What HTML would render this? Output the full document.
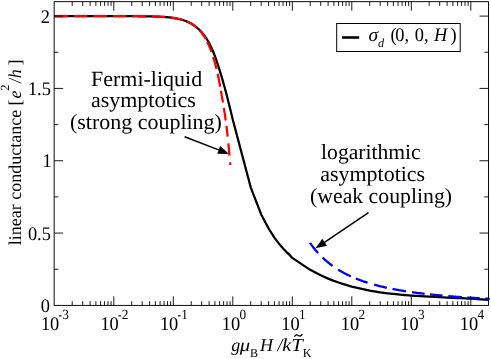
<!DOCTYPE html>
<html><head><meta charset="utf-8"><title>plot</title>
<style>html,body{margin:0;padding:0;background:#fff;}svg{display:block;will-change:transform;}text{font-family:"Liberation Serif",serif;fill:#000;text-rendering:geometricPrecision;}.i{font-style:italic;}</style>
</head><body>
<svg width="491" height="359" viewBox="0 0 491 359">
<rect x="0" y="0" width="491" height="359" fill="#fff"/>
<polyline points="54.31,16.08 55.21,16.08 56.11,16.09 57.01,16.09 57.92,16.09 58.82,16.10 59.72,16.10 60.62,16.10 61.53,16.10 62.43,16.11 63.33,16.11 64.23,16.11 65.14,16.11 66.04,16.11 66.94,16.11 67.85,16.11 68.75,16.11 69.65,16.11 70.56,16.11 71.46,16.11 72.36,16.11 73.27,16.11 74.17,16.11 75.07,16.11 75.98,16.11 76.88,16.11 77.79,16.11 78.69,16.11 79.59,16.11 80.50,16.11 81.40,16.11 82.31,16.11 83.21,16.11 84.11,16.11 85.02,16.10 85.92,16.10 86.83,16.10 87.73,16.10 88.63,16.10 89.54,16.10 90.44,16.10 91.35,16.10 92.25,16.10 93.15,16.10 94.06,16.10 94.96,16.09 95.87,16.09 96.77,16.09 97.67,16.09 98.58,16.09 99.48,16.09 100.39,16.09 101.29,16.09 102.19,16.09 103.10,16.09 104.00,16.09 104.91,16.09 105.81,16.09 106.71,16.09 107.62,16.09 108.52,16.09 109.42,16.10 110.33,16.10 111.23,16.10 112.13,16.10 113.04,16.10 113.94,16.10 114.84,16.11 115.75,16.11 116.65,16.11 117.55,16.11 118.45,16.12 119.36,16.12 120.26,16.13 121.16,16.13 122.06,16.13 122.97,16.14 123.87,16.14 124.77,16.15 125.67,16.15 126.57,16.16 127.48,16.17 128.38,16.17 129.28,16.18 130.18,16.19 131.09,16.19 131.99,16.20 132.89,16.21 133.79,16.22 134.70,16.22 135.60,16.23 136.50,16.24 137.40,16.25 138.31,16.26 139.21,16.27 140.11,16.28 141.02,16.30 141.92,16.31 142.83,16.32 143.73,16.33 144.63,16.34 145.54,16.36 146.44,16.37 147.35,16.39 148.25,16.40 149.16,16.42 150.06,16.43 150.97,16.45 151.88,16.46 152.78,16.48 153.69,16.50 154.59,16.52 155.50,16.54 156.41,16.57 157.31,16.60 158.22,16.63 159.12,16.66 160.03,16.70 160.93,16.75 161.84,16.79 162.74,16.85 163.64,16.90 164.54,16.97 165.44,17.03 166.34,17.11 167.24,17.19 168.14,17.28 169.04,17.38 169.93,17.48 170.83,17.59 171.72,17.71 172.61,17.84 173.50,17.98 174.39,18.12 175.28,18.28 176.16,18.45 177.05,18.62 177.93,18.81 178.81,19.01 179.69,19.22 180.56,19.44 181.44,19.68 182.31,19.93 183.17,20.19 184.03,20.46 184.89,20.76 185.74,21.06 186.58,21.39 187.42,21.73 188.24,22.10 189.06,22.48 189.86,22.89 190.66,23.31 191.44,23.76 192.22,24.22 192.98,24.70 193.72,25.20 194.46,25.72 195.19,26.25 195.90,26.80 196.60,27.36 197.28,27.94 197.95,28.53 198.61,29.13 199.26,29.75 199.89,30.38 200.51,31.02 201.12,31.67 201.71,32.33 202.29,33.00 202.86,33.69 203.42,34.38 203.96,35.08 204.50,35.80 205.02,36.52 205.53,37.25 206.03,37.99 206.52,38.74 207.00,39.50 207.47,40.26 207.93,41.04 208.39,41.82 208.83,42.60 209.26,43.40 209.69,44.20 210.10,45.01 210.51,45.82 210.91,46.64 211.30,47.47 211.69,48.30 212.06,49.14 212.44,49.98 212.80,50.83 213.16,51.68 213.51,52.53 213.85,53.39 214.19,54.25 214.53,55.12 214.85,55.98 215.18,56.85 215.50,57.73 215.81,58.60 216.12,59.48 216.43,60.36 216.73,61.24 217.03,62.12 217.32,63.00 217.61,63.88 217.90,64.76 218.19,65.64 218.48,66.53 218.76,67.41 219.04,68.29 219.32,69.17 219.59,70.05 219.86,70.93 220.14,71.81 220.40,72.69 220.67,73.57 220.94,74.45 221.20,75.33 221.46,76.20 221.72,77.08 221.98,77.96 222.23,78.84 222.49,79.71 222.74,80.59 222.99,81.47 223.24,82.34 223.49,83.22 223.73,84.09 223.98,84.97 224.22,85.85 224.46,86.72 224.70,87.59 224.94,88.47 225.17,89.34 225.41,90.22 225.64,91.09 225.87,91.96 226.10,92.83 226.33,93.71 226.56,94.58 226.79,95.45 227.01,96.32 227.24,97.19 227.46,98.07 227.68,98.94 227.91,99.81 228.13,100.68 228.35,101.55 228.56,102.42 228.78,103.29 229.00,104.16 229.21,105.03 229.43,105.90 229.64,106.76 229.86,107.63 230.07,108.50 230.28,109.37 230.49,110.24 230.70,111.11 230.91,111.97 231.12,112.84 231.33,113.71 231.54,114.57 231.75,115.44 231.96,116.31 232.17,117.17 232.80,119.83 250.71,187.30 261.19,214.40 268.62,228.51 274.39,237.61 279.10,243.88 283.08,248.50 286.53,252.07 289.58,254.94 292.30,257.90 310.21,269.83 320.69,275.31 328.12,278.60 333.89,280.86 338.60,282.54 342.58,283.86 346.03,284.92 349.08,285.80 351.80,286.54 369.71,290.56 380.19,292.30 387.62,293.31 393.39,293.99 398.10,294.48 402.08,294.85 405.53,295.15 408.58,295.39 411.30,295.60 429.21,296.68 439.69,297.19 447.12,297.53 452.89,297.79 457.60,298.01 461.58,298.22 465.03,298.40 468.08,298.57 470.80,298.73 488.71,299.80" fill="none" stroke="#000" stroke-width="2.25" stroke-linejoin="round"/>
<path d="M54.42,16.10 54.48,16.10 54.54,16.10 54.60,16.10 54.66,16.10 54.72,16.10 54.78,16.10 54.84,16.10 54.90,16.10 54.95,16.10 55.01,16.10 55.07,16.10 55.13,16.10 55.19,16.10 55.25,16.10 55.31,16.10 55.37,16.10 55.43,16.10 55.49,16.10 55.55,16.10 55.61,16.10 55.67,16.10 55.73,16.10 55.79,16.10 55.85,16.10 55.91,16.10 55.97,16.10 56.03,16.10 56.09,16.10 56.15,16.10 56.20,16.10 56.26,16.10 56.32,16.10 56.38,16.10 56.44,16.10 56.50,16.10 56.56,16.10 56.62,16.10 56.68,16.10 56.74,16.10 56.80,16.10 56.86,16.10 56.92,16.10 56.98,16.10 57.04,16.10 57.10,16.10 57.16,16.10 57.22,16.10 57.28,16.10 57.34,16.10 57.40,16.10 57.45,16.10 57.51,16.10 57.57,16.10 57.63,16.10 57.69,16.10 57.75,16.10 57.81,16.10 57.87,16.10 57.93,16.10 57.99,16.10 58.05,16.10 58.11,16.10 58.17,16.10 58.23,16.10 58.29,16.10 58.35,16.10 58.41,16.10 58.47,16.10 58.53,16.10 58.59,16.10 58.64,16.10 58.70,16.10 58.76,16.10 58.82,16.10 58.88,16.10 58.94,16.10 59.00,16.10 59.06,16.10 59.12,16.10 59.18,16.10 59.24,16.10 59.30,16.10 59.36,16.10 59.42,16.10 59.48,16.10 59.54,16.10 59.60,16.10 59.66,16.10 59.72,16.10 59.78,16.10 59.84,16.10 59.89,16.10 59.95,16.10 60.01,16.10 60.07,16.10 60.13,16.10 60.19,16.10 60.25,16.10 60.31,16.10 60.37,16.10 60.43,16.10 60.49,16.10 60.55,16.10 60.61,16.10 60.67,16.10 60.73,16.10 60.79,16.10 60.85,16.10 60.91,16.10 60.97,16.10 61.03,16.10 61.09,16.10 61.14,16.10 61.20,16.10 61.26,16.10 61.32,16.10 61.38,16.10 61.44,16.10 61.50,16.10 61.56,16.10 61.62,16.10 61.68,16.10 61.74,16.10 61.80,16.10 61.86,16.10 61.92,16.10 61.98,16.10 62.04,16.10 62.10,16.10 62.16,16.10 62.22,16.10 62.28,16.10 62.34,16.10 62.39,16.10 62.45,16.10 62.51,16.10 62.57,16.10 62.63,16.10 62.69,16.10 62.75,16.10 62.81,16.10 62.87,16.10 62.93,16.10 62.99,16.10 63.05,16.10 63.11,16.10 63.17,16.10 63.23,16.10 63.29,16.10 63.35,16.10 63.41,16.10 63.47,16.10 63.53,16.10 63.59,16.10 63.64,16.10 63.70,16.10 63.76,16.10 63.82,16.10 63.88,16.10 63.94,16.10 64.00,16.10 64.06,16.10 64.12,16.10 64.18,16.10 64.24,16.10 64.30,16.10 64.36,16.10 64.42,16.10 64.48,16.10 64.54,16.10 64.60,16.10 64.66,16.10 64.72,16.10 64.78,16.10 64.84,16.10 64.89,16.10 64.95,16.10 65.01,16.10 65.07,16.10 65.13,16.10 65.19,16.10 65.25,16.10 65.31,16.10 65.37,16.10 65.43,16.10 65.49,16.10 65.55,16.10 65.61,16.10 65.67,16.10 65.73,16.10 65.79,16.10 65.85,16.10 65.91,16.10 65.97,16.10 66.03,16.10 66.08,16.10 66.14,16.10 66.20,16.10 66.26,16.10 66.32,16.10 66.38,16.10 66.44,16.10 66.50,16.10 66.56,16.10 66.62,16.10 66.68,16.10 66.74,16.10 66.80,16.10 66.86,16.10 66.92,16.10 66.98,16.10 67.04,16.10 67.10,16.10 67.16,16.10 67.22,16.10 67.28,16.10 67.33,16.10 67.39,16.10 67.45,16.10 67.51,16.10 67.57,16.10 67.63,16.10 67.69,16.10 67.75,16.10 67.81,16.10 67.87,16.10 M73.94,16.10 74.00,16.10 74.06,16.10 74.12,16.10 74.18,16.10 74.24,16.10 74.30,16.10 74.36,16.10 74.42,16.10 74.48,16.10 74.54,16.10 74.60,16.10 74.66,16.10 74.72,16.10 74.77,16.10 74.83,16.10 74.89,16.10 74.95,16.10 75.01,16.10 75.07,16.10 75.13,16.10 75.19,16.10 75.25,16.10 75.31,16.10 75.37,16.10 75.43,16.10 75.49,16.10 75.55,16.10 75.61,16.10 75.67,16.10 75.73,16.10 75.79,16.10 75.85,16.10 75.91,16.10 75.97,16.10 76.02,16.10 76.08,16.10 76.14,16.10 76.20,16.10 76.26,16.10 76.32,16.10 76.38,16.10 76.44,16.10 76.50,16.10 76.56,16.10 76.62,16.10 76.68,16.10 76.74,16.10 76.80,16.10 76.86,16.10 76.92,16.10 76.98,16.10 77.04,16.10 77.10,16.10 77.16,16.10 77.22,16.10 77.27,16.10 77.33,16.10 77.39,16.10 77.45,16.10 77.51,16.10 77.57,16.10 77.63,16.10 77.69,16.10 77.75,16.10 77.81,16.10 77.87,16.10 77.93,16.10 77.99,16.10 78.05,16.10 78.11,16.10 78.17,16.10 78.23,16.10 78.29,16.10 78.35,16.10 78.41,16.10 78.47,16.10 78.52,16.10 78.58,16.10 78.64,16.10 78.70,16.10 78.76,16.10 78.82,16.10 78.88,16.10 78.94,16.10 79.00,16.10 79.06,16.10 79.12,16.10 79.18,16.10 79.24,16.10 79.30,16.10 79.36,16.10 79.42,16.10 79.48,16.10 79.54,16.10 79.60,16.10 79.66,16.10 79.71,16.10 79.77,16.10 79.83,16.10 79.89,16.10 79.95,16.10 80.01,16.10 80.07,16.10 80.13,16.10 80.19,16.10 80.25,16.10 80.31,16.10 80.37,16.10 80.43,16.10 80.49,16.10 80.55,16.10 80.61,16.10 80.67,16.10 80.73,16.10 80.79,16.10 80.85,16.10 80.91,16.10 80.96,16.10 81.02,16.10 81.08,16.10 81.14,16.10 81.20,16.10 81.26,16.10 81.32,16.10 81.38,16.10 81.44,16.10 81.50,16.10 81.56,16.10 81.62,16.10 81.68,16.10 81.74,16.10 81.80,16.10 81.86,16.10 81.92,16.10 81.98,16.10 82.04,16.10 82.10,16.10 82.16,16.10 82.21,16.10 82.27,16.10 82.33,16.10 82.39,16.10 82.45,16.10 82.51,16.10 82.57,16.10 82.63,16.10 82.69,16.10 82.75,16.10 82.81,16.10 82.87,16.10 82.93,16.10 82.99,16.10 83.05,16.10 83.11,16.10 83.17,16.10 83.23,16.10 83.29,16.10 83.35,16.10 83.41,16.10 83.46,16.10 83.52,16.10 83.58,16.10 83.64,16.10 83.70,16.10 83.76,16.10 83.82,16.10 83.88,16.10 83.94,16.10 84.00,16.10 84.06,16.10 84.12,16.10 84.18,16.10 84.24,16.10 84.30,16.10 84.36,16.10 84.42,16.10 84.48,16.10 84.54,16.10 84.60,16.10 84.66,16.10 84.71,16.10 84.77,16.10 84.83,16.10 84.89,16.10 84.95,16.10 85.01,16.10 85.07,16.10 85.13,16.10 85.19,16.10 85.25,16.10 85.31,16.10 85.37,16.10 85.43,16.10 85.49,16.10 85.55,16.10 85.61,16.10 85.67,16.10 85.73,16.10 85.79,16.10 85.85,16.10 85.91,16.10 85.96,16.10 86.02,16.10 86.08,16.10 86.14,16.10 86.20,16.10 86.26,16.10 86.32,16.10 86.38,16.10 86.44,16.10 86.50,16.10 86.56,16.10 86.62,16.10 86.68,16.10 86.74,16.10 86.80,16.10 86.86,16.10 86.92,16.10 86.98,16.10 87.04,16.10 87.10,16.10 87.15,16.10 87.21,16.10 87.27,16.10 87.33,16.10 87.39,16.10 87.45,16.10 M93.23,16.10 93.29,16.10 93.35,16.10 93.40,16.10 93.46,16.10 93.52,16.10 93.58,16.10 93.64,16.10 93.70,16.10 93.76,16.10 93.82,16.10 93.88,16.10 93.94,16.10 94.00,16.10 94.06,16.10 94.12,16.10 94.18,16.10 94.24,16.10 94.30,16.10 94.36,16.10 94.42,16.10 94.48,16.10 94.54,16.10 94.59,16.10 94.65,16.10 94.71,16.10 94.77,16.10 94.83,16.10 94.89,16.10 94.95,16.10 95.01,16.10 95.07,16.10 95.13,16.10 95.19,16.10 95.25,16.10 95.31,16.10 95.37,16.10 95.43,16.10 95.49,16.10 95.55,16.10 95.61,16.10 95.67,16.10 95.73,16.10 95.79,16.10 95.84,16.10 95.90,16.10 95.96,16.10 96.02,16.10 96.08,16.10 96.14,16.10 96.20,16.10 96.26,16.10 96.32,16.10 96.38,16.10 96.44,16.10 96.50,16.10 96.56,16.10 96.62,16.10 96.68,16.10 96.74,16.10 96.80,16.11 96.86,16.11 96.92,16.11 96.98,16.11 97.04,16.11 97.09,16.11 97.15,16.11 97.21,16.11 97.27,16.11 97.33,16.11 97.39,16.11 97.45,16.11 97.51,16.11 97.57,16.11 97.63,16.11 97.69,16.11 97.75,16.11 97.81,16.11 97.87,16.11 97.93,16.11 97.99,16.11 98.05,16.11 98.11,16.11 98.17,16.11 98.23,16.11 98.29,16.11 98.34,16.11 98.40,16.11 98.46,16.11 98.52,16.11 98.58,16.11 98.64,16.11 98.70,16.11 98.76,16.11 98.82,16.11 98.88,16.11 98.94,16.11 99.00,16.11 99.06,16.11 99.12,16.11 99.18,16.11 99.24,16.11 99.30,16.11 99.36,16.11 99.42,16.11 99.48,16.11 99.54,16.11 99.59,16.11 99.65,16.11 99.71,16.11 99.77,16.11 99.83,16.11 99.89,16.11 99.95,16.11 100.01,16.11 100.07,16.11 100.13,16.11 100.19,16.11 100.25,16.11 100.31,16.11 100.37,16.11 100.43,16.11 100.49,16.11 100.55,16.11 100.61,16.11 100.67,16.11 100.73,16.11 100.78,16.11 100.84,16.11 100.90,16.11 100.96,16.11 101.02,16.11 101.08,16.11 101.14,16.11 101.20,16.11 101.26,16.11 101.32,16.11 101.38,16.11 101.44,16.11 101.50,16.11 101.56,16.11 101.62,16.11 101.68,16.11 101.74,16.11 101.80,16.11 101.86,16.11 101.92,16.11 101.98,16.11 102.03,16.11 102.09,16.11 102.15,16.11 102.21,16.11 102.27,16.11 102.33,16.11 102.39,16.11 102.45,16.11 102.51,16.11 102.57,16.11 102.63,16.11 102.69,16.11 102.75,16.11 102.81,16.11 102.87,16.11 102.93,16.11 102.99,16.11 103.05,16.11 103.11,16.11 103.17,16.11 103.23,16.11 103.28,16.11 103.34,16.11 103.40,16.11 103.46,16.11 103.52,16.11 103.58,16.11 103.64,16.11 103.70,16.11 103.76,16.11 103.82,16.11 103.88,16.11 103.94,16.11 104.00,16.11 104.06,16.11 104.12,16.11 104.18,16.11 104.24,16.11 104.30,16.11 104.36,16.11 104.42,16.11 104.48,16.11 104.53,16.11 104.59,16.11 104.65,16.11 104.71,16.11 104.77,16.11 104.83,16.11 104.89,16.11 104.95,16.11 105.01,16.11 105.07,16.11 105.13,16.11 105.19,16.11 105.25,16.11 105.31,16.11 105.37,16.11 105.43,16.11 105.49,16.11 105.55,16.11 105.61,16.11 105.67,16.11 105.73,16.11 105.78,16.11 105.84,16.11 105.90,16.11 105.96,16.11 106.02,16.11 106.08,16.11 106.14,16.11 106.20,16.11 106.26,16.11 106.32,16.11 106.38,16.11 106.44,16.11 106.50,16.11 106.56,16.11 106.62,16.11 106.68,16.11 106.74,16.11 106.80,16.11 106.86,16.11 106.92,16.11 106.98,16.11 M113.05,16.12 113.11,16.12 113.17,16.12 113.22,16.12 113.28,16.12 113.34,16.12 113.40,16.12 113.46,16.12 113.52,16.12 113.58,16.12 113.64,16.12 113.70,16.12 113.76,16.12 113.82,16.12 113.88,16.12 113.94,16.12 114.00,16.12 114.06,16.12 114.12,16.12 114.18,16.12 114.24,16.12 114.30,16.12 114.36,16.12 114.42,16.12 114.47,16.12 114.53,16.12 114.59,16.12 114.65,16.12 114.71,16.12 114.77,16.12 114.83,16.12 114.89,16.12 114.95,16.12 115.01,16.12 115.07,16.12 115.13,16.12 115.19,16.12 115.25,16.12 115.31,16.12 115.37,16.12 115.43,16.12 115.49,16.12 115.55,16.12 115.61,16.12 115.66,16.12 115.72,16.12 115.78,16.12 115.84,16.12 115.90,16.12 115.96,16.12 116.02,16.12 116.08,16.12 116.14,16.12 116.20,16.12 116.26,16.12 116.32,16.12 116.38,16.12 116.44,16.12 116.50,16.12 116.56,16.12 116.62,16.12 116.68,16.12 116.74,16.12 116.80,16.12 116.86,16.12 116.91,16.12 116.97,16.12 117.03,16.12 117.09,16.12 117.15,16.12 117.21,16.12 117.27,16.12 117.33,16.12 117.39,16.12 117.45,16.12 117.51,16.12 117.57,16.12 117.63,16.13 117.69,16.13 117.75,16.13 117.81,16.13 117.87,16.13 117.93,16.13 117.99,16.13 118.05,16.13 118.11,16.13 118.16,16.13 118.22,16.13 118.28,16.13 118.34,16.13 118.40,16.13 118.46,16.13 118.52,16.13 118.58,16.13 118.64,16.13 118.70,16.13 118.76,16.13 118.82,16.13 118.88,16.13 118.94,16.13 119.00,16.13 119.06,16.13 119.12,16.13 119.18,16.13 119.24,16.13 119.30,16.13 119.36,16.13 119.41,16.13 119.47,16.13 119.53,16.13 119.59,16.13 119.65,16.13 119.71,16.13 119.77,16.13 119.83,16.13 119.89,16.13 119.95,16.13 120.01,16.13 120.07,16.13 120.13,16.13 120.19,16.13 120.25,16.13 120.31,16.13 120.37,16.13 120.43,16.13 120.49,16.13 120.55,16.13 120.61,16.13 120.66,16.13 120.72,16.13 120.78,16.13 120.84,16.13 120.90,16.13 120.96,16.13 121.02,16.13 121.08,16.13 121.14,16.13 121.20,16.13 121.26,16.13 121.32,16.13 121.38,16.13 121.44,16.13 121.50,16.13 121.56,16.13 121.62,16.13 121.68,16.13 121.74,16.13 121.80,16.13 121.86,16.13 121.91,16.13 121.97,16.14 122.03,16.14 122.09,16.14 122.15,16.14 122.21,16.14 122.27,16.14 122.33,16.14 122.39,16.14 122.45,16.14 122.51,16.14 122.57,16.14 122.63,16.14 122.69,16.14 122.75,16.14 122.81,16.14 122.87,16.14 122.93,16.14 122.99,16.14 123.05,16.14 123.10,16.14 123.16,16.14 123.22,16.14 123.28,16.14 123.34,16.14 123.40,16.14 123.46,16.14 123.52,16.14 123.58,16.14 123.64,16.14 123.70,16.14 123.76,16.14 123.82,16.14 123.88,16.14 123.94,16.14 124.00,16.14 124.06,16.14 124.12,16.14 124.18,16.14 124.24,16.14 124.30,16.14 124.35,16.14 124.41,16.14 124.47,16.14 124.53,16.14 124.59,16.14 124.65,16.14 124.71,16.14 124.77,16.14 124.83,16.14 124.89,16.14 124.95,16.14 125.01,16.14 125.07,16.14 125.13,16.14 125.19,16.15 125.25,16.15 125.31,16.15 125.37,16.15 125.43,16.15 125.49,16.15 125.55,16.15 125.60,16.15 125.66,16.15 125.72,16.15 125.78,16.15 125.84,16.15 125.90,16.15 125.96,16.15 126.02,16.15 126.08,16.15 126.14,16.15 126.20,16.15 126.26,16.15 126.32,16.15 126.38,16.15 126.44,16.15 126.50,16.15 M132.21,16.18 132.27,16.18 132.33,16.18 132.39,16.18 132.45,16.18 132.51,16.18 132.57,16.18 132.63,16.18 132.69,16.18 132.75,16.18 132.81,16.18 132.87,16.18 132.93,16.18 132.99,16.18 133.04,16.18 133.10,16.18 133.16,16.18 133.22,16.18 133.28,16.18 133.34,16.18 133.40,16.19 133.46,16.19 133.52,16.19 133.58,16.19 133.64,16.19 133.70,16.19 133.76,16.19 133.82,16.19 133.88,16.19 133.94,16.19 134.00,16.19 134.06,16.19 134.12,16.19 134.18,16.19 134.24,16.19 134.29,16.19 134.35,16.19 134.41,16.19 134.47,16.19 134.53,16.19 134.59,16.19 134.65,16.19 134.71,16.19 134.77,16.19 134.83,16.20 134.89,16.20 134.95,16.20 135.01,16.20 135.07,16.20 135.13,16.20 135.19,16.20 135.25,16.20 135.31,16.20 135.37,16.20 135.43,16.20 135.49,16.20 135.54,16.20 135.60,16.20 135.66,16.20 135.72,16.20 135.78,16.20 135.84,16.20 135.90,16.20 135.96,16.20 136.02,16.20 136.08,16.20 136.14,16.21 136.20,16.21 136.26,16.21 136.32,16.21 136.38,16.21 136.44,16.21 136.50,16.21 136.56,16.21 136.62,16.21 136.68,16.21 136.73,16.21 136.79,16.21 136.85,16.21 136.91,16.21 136.97,16.21 137.03,16.21 137.09,16.21 137.15,16.21 137.21,16.21 137.27,16.21 137.33,16.22 137.39,16.22 137.45,16.22 137.51,16.22 137.57,16.22 137.63,16.22 137.69,16.22 137.75,16.22 137.81,16.22 137.87,16.22 137.93,16.22 137.98,16.22 138.04,16.22 138.10,16.22 138.16,16.22 138.22,16.22 138.28,16.22 138.34,16.22 138.40,16.23 138.46,16.23 138.52,16.23 138.58,16.23 138.64,16.23 138.70,16.23 138.76,16.23 138.82,16.23 138.88,16.23 138.94,16.23 139.00,16.23 139.06,16.23 139.12,16.23 139.18,16.23 139.23,16.23 139.29,16.23 139.35,16.23 139.41,16.24 139.47,16.24 139.53,16.24 139.59,16.24 139.65,16.24 139.71,16.24 139.77,16.24 139.83,16.24 139.89,16.24 139.95,16.24 140.01,16.24 140.07,16.24 140.13,16.24 140.19,16.24 140.25,16.24 140.31,16.25 140.37,16.25 140.43,16.25 140.48,16.25 140.54,16.25 140.60,16.25 140.66,16.25 140.72,16.25 140.78,16.25 140.84,16.25 140.90,16.25 140.96,16.25 141.02,16.25 141.08,16.25 141.14,16.25 141.20,16.26 141.26,16.26 141.32,16.26 141.38,16.26 141.44,16.26 141.50,16.26 141.56,16.26 141.62,16.26 141.68,16.26 141.73,16.26 141.79,16.26 141.85,16.26 141.91,16.26 141.97,16.27 142.03,16.27 142.09,16.27 142.15,16.27 142.21,16.27 142.27,16.27 142.33,16.27 142.39,16.27 142.45,16.27 142.51,16.27 142.57,16.27 142.63,16.27 142.69,16.27 142.75,16.28 142.81,16.28 142.87,16.28 142.93,16.28 142.98,16.28 143.04,16.28 143.10,16.28 143.16,16.28 143.22,16.28 143.28,16.28 143.34,16.28 143.40,16.28 143.46,16.29 143.52,16.29 143.58,16.29 143.64,16.29 143.70,16.29 143.76,16.29 143.82,16.29 143.88,16.29 143.94,16.29 144.00,16.29 144.06,16.29 144.12,16.29 144.17,16.30 144.23,16.30 144.29,16.30 144.35,16.30 144.41,16.30 144.47,16.30 144.53,16.30 144.59,16.30 144.65,16.30 144.71,16.30 144.77,16.31 144.83,16.31 144.89,16.31 144.95,16.31 145.01,16.31 145.07,16.31 145.13,16.31 145.19,16.31 145.25,16.31 145.31,16.31 145.37,16.31 145.42,16.32 145.48,16.32 145.54,16.32 145.60,16.32 145.66,16.32 145.72,16.32 145.78,16.32 145.84,16.32 145.90,16.32 145.96,16.32 M151.85,16.45 151.91,16.46 151.97,16.46 152.03,16.46 152.09,16.46 152.15,16.46 152.21,16.46 152.27,16.47 152.33,16.47 152.39,16.47 152.45,16.47 152.51,16.47 152.57,16.47 152.63,16.48 152.69,16.48 152.75,16.48 152.81,16.48 152.86,16.48 152.92,16.49 152.98,16.49 153.04,16.49 153.10,16.49 153.16,16.49 153.22,16.49 153.28,16.50 153.34,16.50 153.40,16.50 153.46,16.50 153.52,16.50 153.58,16.51 153.64,16.51 153.70,16.51 153.76,16.51 153.82,16.51 153.88,16.51 153.94,16.52 154.00,16.52 154.06,16.52 154.11,16.52 154.17,16.52 154.23,16.53 154.29,16.53 154.35,16.53 154.41,16.53 154.47,16.53 154.53,16.54 154.59,16.54 154.65,16.54 154.71,16.54 154.77,16.54 154.83,16.55 154.89,16.55 154.95,16.55 155.01,16.55 155.07,16.56 155.13,16.56 155.19,16.56 155.25,16.56 155.31,16.56 155.36,16.57 155.42,16.57 155.48,16.57 155.54,16.57 155.60,16.57 155.66,16.58 155.72,16.58 155.78,16.58 155.84,16.58 155.90,16.59 155.96,16.59 156.02,16.59 156.08,16.59 156.14,16.59 156.20,16.60 156.26,16.60 156.32,16.60 156.38,16.60 156.44,16.61 156.50,16.61 156.56,16.61 156.61,16.61 156.67,16.62 156.73,16.62 156.79,16.62 156.85,16.62 156.91,16.62 156.97,16.63 157.03,16.63 157.09,16.63 157.15,16.63 157.21,16.64 157.27,16.64 157.33,16.64 157.39,16.64 157.45,16.65 157.51,16.65 157.57,16.65 157.63,16.65 157.69,16.66 157.75,16.66 157.81,16.66 157.86,16.67 157.92,16.67 157.98,16.67 158.04,16.67 158.10,16.68 158.16,16.68 158.22,16.68 158.28,16.68 158.34,16.69 158.40,16.69 158.46,16.69 158.52,16.69 158.58,16.70 158.64,16.70 158.70,16.70 158.76,16.71 158.82,16.71 158.88,16.71 158.94,16.71 159.00,16.72 159.05,16.72 159.11,16.72 159.17,16.73 159.23,16.73 159.29,16.73 159.35,16.73 159.41,16.74 159.47,16.74 159.53,16.74 159.59,16.75 159.65,16.75 159.71,16.75 159.77,16.75 159.83,16.76 159.89,16.76 159.95,16.76 160.01,16.77 160.07,16.77 160.13,16.77 160.19,16.78 160.25,16.78 160.30,16.78 160.36,16.79 160.42,16.79 160.48,16.79 160.54,16.80 160.60,16.80 160.66,16.80 160.72,16.80 160.78,16.81 160.84,16.81 160.90,16.81 160.96,16.82 161.02,16.82 161.08,16.82 161.14,16.83 161.20,16.83 161.26,16.83 161.32,16.84 161.38,16.84 161.44,16.84 161.50,16.85 161.55,16.85 161.61,16.86 161.67,16.86 161.73,16.86 161.79,16.87 161.85,16.87 161.91,16.87 161.97,16.88 162.03,16.88 162.09,16.88 162.15,16.89 162.21,16.89 162.27,16.89 162.33,16.90 162.39,16.90 162.45,16.91 162.51,16.91 162.57,16.91 162.63,16.92 162.69,16.92 162.75,16.92 162.80,16.93 162.86,16.93 162.92,16.94 162.98,16.94 163.04,16.94 163.10,16.95 163.16,16.95 163.22,16.96 163.28,16.96 163.34,16.96 163.40,16.97 163.46,16.97 163.52,16.98 163.58,16.98 163.64,16.98 163.70,16.99 163.76,16.99 163.82,17.00 163.88,17.00 163.94,17.00 164.00,17.01 164.05,17.01 164.11,17.02 164.17,17.02 164.23,17.02 164.29,17.03 164.35,17.03 164.41,17.04 164.47,17.04 164.53,17.05 164.59,17.05 164.65,17.06 164.71,17.06 164.77,17.06 164.83,17.07 164.89,17.07 164.95,17.08 M170.42,17.59 170.48,17.60 170.54,17.61 170.60,17.61 170.66,17.62 170.72,17.63 170.78,17.64 170.84,17.64 170.90,17.65 170.96,17.66 171.02,17.66 171.08,17.67 171.14,17.68 171.20,17.69 171.26,17.69 171.32,17.70 171.38,17.71 171.44,17.72 171.49,17.72 171.55,17.73 171.61,17.74 171.67,17.75 171.73,17.75 171.79,17.76 171.85,17.77 171.91,17.78 171.97,17.78 172.03,17.79 172.09,17.80 172.15,17.81 172.21,17.81 172.27,17.82 172.33,17.83 172.39,17.84 172.45,17.85 172.51,17.85 172.57,17.86 172.63,17.87 172.68,17.88 172.74,17.89 172.80,17.90 172.86,17.90 172.92,17.91 172.98,17.92 173.04,17.93 173.10,17.94 173.16,17.95 173.22,17.95 173.28,17.96 173.34,17.97 173.40,17.98 173.46,17.99 173.52,18.00 173.58,18.01 173.64,18.02 173.70,18.02 173.76,18.03 173.82,18.04 173.88,18.05 173.93,18.06 173.99,18.07 174.05,18.08 174.11,18.09 174.17,18.10 174.23,18.11 174.29,18.11 174.35,18.12 174.41,18.13 174.47,18.14 174.53,18.15 174.59,18.16 174.65,18.17 174.71,18.18 174.77,18.19 174.83,18.20 174.89,18.21 174.95,18.22 175.01,18.23 175.07,18.24 175.13,18.25 175.18,18.26 175.24,18.27 175.30,18.28 175.36,18.29 175.42,18.30 175.48,18.31 175.54,18.32 175.60,18.33 175.66,18.34 175.72,18.35 175.78,18.36 175.84,18.37 175.90,18.38 175.96,18.39 176.02,18.40 176.08,18.41 176.14,18.42 176.20,18.43 176.26,18.45 176.32,18.46 176.38,18.47 176.43,18.48 176.49,18.49 176.55,18.50 176.61,18.51 176.67,18.52 176.73,18.53 176.79,18.55 176.85,18.56 176.91,18.57 176.97,18.58 177.03,18.59 177.09,18.60 177.15,18.61 177.21,18.63 177.27,18.64 177.33,18.65 177.39,18.66 177.45,18.67 177.51,18.68 177.57,18.70 177.63,18.71 177.68,18.72 177.74,18.73 177.80,18.74 177.86,18.76 177.92,18.77 177.98,18.78 178.04,18.79 178.10,18.81 178.16,18.82 178.22,18.83 178.28,18.84 178.34,18.86 178.40,18.87 178.46,18.88 178.52,18.89 178.58,18.91 178.64,18.92 178.70,18.93 178.76,18.95 178.82,18.96 178.88,18.97 178.93,18.99 178.99,19.00 179.05,19.01 179.11,19.03 179.17,19.04 179.23,19.05 179.29,19.07 179.35,19.08 179.41,19.09 179.47,19.11 179.53,19.12 179.59,19.14 179.65,19.15 179.71,19.16 179.77,19.18 179.83,19.19 179.89,19.21 179.95,19.22 180.01,19.24 180.07,19.25 180.12,19.26 180.18,19.28 180.24,19.29 180.30,19.31 180.36,19.32 180.42,19.34 180.48,19.35 180.54,19.37 180.60,19.38 180.66,19.40 180.72,19.41 180.78,19.43 180.84,19.44 180.90,19.46 180.96,19.48 181.02,19.49 181.08,19.51 181.14,19.52 181.20,19.54 181.26,19.55 181.32,19.57 181.37,19.59 181.43,19.60 181.49,19.62 181.55,19.63 181.61,19.65 181.67,19.67 181.73,19.68 181.79,19.70 181.85,19.72 181.91,19.73 181.97,19.75 182.03,19.77 182.09,19.78 182.15,19.80 182.21,19.82 182.27,19.84 182.33,19.85 182.39,19.87 182.45,19.89 182.51,19.90 182.57,19.92 182.62,19.94 182.68,19.96 182.74,19.98 182.80,19.99 182.86,20.01 182.92,20.03 182.98,20.05 M187.03,21.50 187.27,21.60 187.51,21.70 187.74,21.81 187.98,21.91 188.22,22.02 188.46,22.13 188.70,22.24 188.93,22.36 189.17,22.47 189.41,22.59 189.65,22.71 189.89,22.84 190.12,22.96 190.36,23.09 190.60,23.22 190.84,23.35 191.08,23.49 191.31,23.62 191.55,23.76 191.79,23.91 192.03,24.05 192.27,24.20 192.51,24.35 192.74,24.50 192.98,24.66 193.22,24.82 193.46,24.98 193.70,25.15 193.93,25.31 194.17,25.49 194.41,25.66 194.65,25.84 194.89,26.02 195.12,26.20 195.36,26.39 195.60,26.58 195.84,26.78 196.08,26.98 196.31,27.18 196.55,27.39 M199.53,30.31 199.77,30.57 200.00,30.84 200.24,31.12 200.48,31.39 200.72,31.68 200.96,31.97 201.19,32.26 201.43,32.56 201.67,32.87 201.91,33.18 202.15,33.50 202.39,33.82 202.62,34.15 202.86,34.49 203.10,34.83 203.34,35.18 203.58,35.53 203.81,35.90 204.05,36.26 204.29,36.64 204.53,37.02 204.77,37.41 205.00,37.81 205.24,38.21 205.48,38.62 205.72,39.04 M207.21,41.84 207.44,42.32 207.68,42.81 207.92,43.30 208.16,43.81 208.40,44.33 208.63,44.85 208.87,45.38 209.11,45.93 209.35,46.48 209.59,47.05 209.83,47.62 210.06,48.21 210.30,48.81 210.54,49.42 210.78,50.04 211.02,50.67 211.25,51.31 211.49,51.96 M213.16,56.90 213.40,57.66 213.63,58.43 213.87,59.22 214.11,60.02 214.35,60.84 214.59,61.67 214.83,62.52 215.06,63.38 215.30,64.26 215.54,65.16 215.78,66.07 216.02,67.00 216.25,67.95 216.49,68.91 M217.62,73.74 217.86,74.81 218.10,75.91 218.34,77.02 218.57,78.15 218.81,79.30 219.05,80.48 219.29,81.68 219.53,82.90 219.77,84.14 220.00,85.41 220.24,86.69 M220.96,90.71 221.19,92.09 221.43,93.51 221.67,94.95 221.93,96.41 222.19,97.91 222.46,99.43 222.72,100.98 222.99,102.56 M223.85,107.89 224.12,109.60 224.38,111.34 224.65,113.11 224.92,114.91 225.19,116.75 225.46,118.62 225.73,120.53 M226.46,125.96 226.69,128.00 226.93,130.08 227.17,132.20 227.41,134.36 227.65,136.56 M228.36,143.41 228.60,145.77 228.84,148.19 229.07,150.64 229.31,153.15 229.55,155.69 M230.15,162.27 230.38,164.99" fill="none" stroke="#f00" stroke-width="2.25"/>
<line x1="54.3" y1="16.1" x2="62.9" y2="16.1" stroke="#8b0000" stroke-width="2.25"/>
<path d="M310.00,242.90 310.90,244.16 311.80,245.38 312.70,246.57 313.60,247.72 314.50,248.84 315.40,249.93 316.30,250.98 317.20,252.01 318.10,253.01 M322.60,257.60 323.50,258.45 324.40,259.28 325.30,260.08 326.20,260.86 327.10,261.63 328.00,262.37 328.90,263.10 329.80,263.80 330.70,264.49 331.60,265.17 332.50,265.82 M338.20,269.64 339.10,270.19 340.00,270.73 340.90,271.25 341.80,271.77 342.70,272.27 343.60,272.76 344.50,273.25 345.40,273.72 346.30,274.18 347.20,274.63 348.10,275.07 349.00,275.50 349.90,275.93 350.80,276.34 M355.90,278.53 356.80,278.90 357.70,279.25 358.60,279.60 359.50,279.94 360.40,280.27 361.30,280.60 362.20,280.92 363.10,281.23 364.00,281.54 364.90,281.85 365.80,282.14 366.70,282.43 367.60,282.72 M374.20,284.67 375.10,284.91 376.00,285.16 376.90,285.39 377.80,285.63 378.70,285.86 379.60,286.08 380.50,286.30 381.40,286.52 382.30,286.74 383.20,286.95 384.10,287.15 385.00,287.36 385.90,287.56 386.80,287.75 M392.50,288.93 393.40,289.11 394.30,289.28 395.20,289.45 396.10,289.61 397.00,289.78 397.90,289.94 398.80,290.10 399.70,290.26 400.60,290.41 401.50,290.56 402.40,290.71 403.30,290.86 404.20,291.01 405.10,291.15 406.00,291.29 M412.00,292.18 412.90,292.31 413.80,292.43 414.70,292.56 415.60,292.68 416.50,292.80 417.40,292.91 418.30,293.03 419.20,293.14 420.10,293.26 421.00,293.37 421.90,293.48 422.80,293.59 423.70,293.69 424.60,293.80 M430.00,294.40 430.90,294.50 431.80,294.60 432.70,294.69 433.60,294.78 434.50,294.87 435.40,294.96 436.30,295.05 437.20,295.14 438.10,295.23 439.00,295.31 439.90,295.40 440.80,295.48 441.70,295.56 442.60,295.65 M448.30,296.14 449.20,296.21 450.10,296.29 451.00,296.36 451.90,296.43 452.80,296.50 453.70,296.57 454.60,296.64 455.50,296.71 456.40,296.78 457.30,296.85 458.20,296.91 459.10,296.98 460.00,297.04 460.90,297.11 461.80,297.17 M467.20,297.54 468.10,297.59 469.00,297.65 469.90,297.71 470.80,297.77 471.70,297.82 472.60,297.88 473.50,297.93 474.40,297.99 475.30,298.04 476.20,298.09 477.10,298.15 478.00,298.20 478.90,298.25 479.80,298.30 M485.20,298.59 486.10,298.64 487.00,298.69 487.90,298.73 488.80,298.78 489.70,298.83" fill="none" stroke="#00f" stroke-width="2.3"/>
<rect x="54.15" y="1.65" width="434.35" height="303.75" fill="none" stroke="#000" stroke-width="0.95"/>
<path d="M72.21,305.4v-4.2M72.21,1.65v4.2M82.69,305.4v-4.2M82.69,1.65v4.2M90.12,305.4v-4.2M90.12,1.65v4.2M95.89,305.4v-4.2M95.89,1.65v4.2M100.60,305.4v-4.2M100.60,1.65v4.2M104.58,305.4v-4.2M104.58,1.65v4.2M108.03,305.4v-4.2M108.03,1.65v4.2M111.08,305.4v-4.2M111.08,1.65v4.2M113.80,305.4v-9.1M113.80,1.65v9.1M131.71,305.4v-4.2M131.71,1.65v4.2M142.19,305.4v-4.2M142.19,1.65v4.2M149.62,305.4v-4.2M149.62,1.65v4.2M155.39,305.4v-4.2M155.39,1.65v4.2M160.10,305.4v-4.2M160.10,1.65v4.2M164.08,305.4v-4.2M164.08,1.65v4.2M167.53,305.4v-4.2M167.53,1.65v4.2M170.58,305.4v-4.2M170.58,1.65v4.2M173.30,305.4v-9.1M173.30,1.65v9.1M191.21,305.4v-4.2M191.21,1.65v4.2M201.69,305.4v-4.2M201.69,1.65v4.2M209.12,305.4v-4.2M209.12,1.65v4.2M214.89,305.4v-4.2M214.89,1.65v4.2M219.60,305.4v-4.2M219.60,1.65v4.2M223.58,305.4v-4.2M223.58,1.65v4.2M227.03,305.4v-4.2M227.03,1.65v4.2M230.08,305.4v-4.2M230.08,1.65v4.2M232.80,305.4v-9.1M232.80,1.65v9.1M250.71,305.4v-4.2M250.71,1.65v4.2M261.19,305.4v-4.2M261.19,1.65v4.2M268.62,305.4v-4.2M268.62,1.65v4.2M274.39,305.4v-4.2M274.39,1.65v4.2M279.10,305.4v-4.2M279.10,1.65v4.2M283.08,305.4v-4.2M283.08,1.65v4.2M286.53,305.4v-4.2M286.53,1.65v4.2M289.58,305.4v-4.2M289.58,1.65v4.2M292.30,305.4v-9.1M292.30,1.65v9.1M310.21,305.4v-4.2M310.21,1.65v4.2M320.69,305.4v-4.2M320.69,1.65v4.2M328.12,305.4v-4.2M328.12,1.65v4.2M333.89,305.4v-4.2M333.89,1.65v4.2M338.60,305.4v-4.2M338.60,1.65v4.2M342.58,305.4v-4.2M342.58,1.65v4.2M346.03,305.4v-4.2M346.03,1.65v4.2M349.08,305.4v-4.2M349.08,1.65v4.2M351.80,305.4v-9.1M351.80,1.65v9.1M369.71,305.4v-4.2M369.71,1.65v4.2M380.19,305.4v-4.2M380.19,1.65v4.2M387.62,305.4v-4.2M387.62,1.65v4.2M393.39,305.4v-4.2M393.39,1.65v4.2M398.10,305.4v-4.2M398.10,1.65v4.2M402.08,305.4v-4.2M402.08,1.65v4.2M405.53,305.4v-4.2M405.53,1.65v4.2M408.58,305.4v-4.2M408.58,1.65v4.2M411.30,305.4v-9.1M411.30,1.65v9.1M429.21,305.4v-4.2M429.21,1.65v4.2M439.69,305.4v-4.2M439.69,1.65v4.2M447.12,305.4v-4.2M447.12,1.65v4.2M452.89,305.4v-4.2M452.89,1.65v4.2M457.60,305.4v-4.2M457.60,1.65v4.2M461.58,305.4v-4.2M461.58,1.65v4.2M465.03,305.4v-4.2M465.03,1.65v4.2M468.08,305.4v-4.2M468.08,1.65v4.2M470.80,305.4v-9.1M470.80,1.65v9.1M54.15,269.24h4.2M488.5,269.24h-4.2M54.15,233.07h9.0M488.5,233.07h-9.0M54.15,196.91h4.2M488.5,196.91h-4.2M54.15,160.75h9.0M488.5,160.75h-9.0M54.15,124.59h4.2M488.5,124.59h-4.2M54.15,88.42h9.0M488.5,88.42h-9.0M54.15,52.26h4.2M488.5,52.26h-4.2M488.5,16.10h-9.0" fill="none" stroke="#000" stroke-width="0.9"/>
<text transform="translate(50.0,22.6) scale(0.953,1)" font-size="19.3" text-anchor="end" >2</text>
<text transform="translate(50.9,94.92) scale(0.953,1)" font-size="19.3" text-anchor="end" >1.5</text>
<text transform="translate(51.6,167.25) scale(0.953,1)" font-size="19.3" text-anchor="end" >1</text>
<text transform="translate(50.9,239.57) scale(0.953,1)" font-size="19.3" text-anchor="end" >0.5</text>
<text transform="translate(49.9,311.9) scale(0.953,1)" font-size="19.3" text-anchor="end" >0</text>
<text transform="translate(40.9,329.9) scale(0.953,1)" font-size="19.3" text-anchor="start" >10</text>
<rect x="58.90" y="315.3" width="2.7" height="1.1" fill="#000"/>
<text transform="translate(62.2,318.5) scale(0.953,1)" font-size="14" text-anchor="start" >3</text>
<text transform="translate(100.4,329.9) scale(0.953,1)" font-size="19.3" text-anchor="start" >10</text>
<rect x="118.40" y="315.3" width="2.7" height="1.1" fill="#000"/>
<text transform="translate(121.7,318.5) scale(0.953,1)" font-size="14" text-anchor="start" >2</text>
<text transform="translate(159.9,329.9) scale(0.953,1)" font-size="19.3" text-anchor="start" >10</text>
<rect x="177.90" y="315.3" width="2.7" height="1.1" fill="#000"/>
<text transform="translate(181.2,318.5) scale(0.953,1)" font-size="14" text-anchor="start" >1</text>
<text transform="translate(221.7,329.9) scale(0.953,1)" font-size="19.3" text-anchor="start" >10</text>
<text transform="translate(239.5,318.5) scale(0.953,1)" font-size="14" text-anchor="start" >0</text>
<text transform="translate(281.2,329.9) scale(0.953,1)" font-size="19.3" text-anchor="start" >10</text>
<text transform="translate(299.0,318.5) scale(0.953,1)" font-size="14" text-anchor="start" >1</text>
<text transform="translate(340.7,329.9) scale(0.953,1)" font-size="19.3" text-anchor="start" >10</text>
<text transform="translate(358.5,318.5) scale(0.953,1)" font-size="14" text-anchor="start" >2</text>
<text transform="translate(400.2,329.9) scale(0.953,1)" font-size="19.3" text-anchor="start" >10</text>
<text transform="translate(418.0,318.5) scale(0.953,1)" font-size="14" text-anchor="start" >3</text>
<text transform="translate(459.7,329.9) scale(0.953,1)" font-size="19.3" text-anchor="start" >10</text>
<text transform="translate(477.5,318.5) scale(0.953,1)" font-size="14" text-anchor="start" >4</text>
<text transform="translate(91.0,85.7) scale(1.018,1)" font-size="21.6" text-anchor="start" >Fermi-liquid</text>
<text transform="translate(90.9,107.4) scale(1.018,1)" font-size="21.6" text-anchor="start" >asymptotics</text>
<text transform="translate(69.9,129.2) scale(1.018,1)" font-size="21.6" text-anchor="start" >(strong coupling)</text>
<text x="321.1" y="158.6" font-size="21.6" text-anchor="start" >logarithmic</text>
<text transform="translate(320.3,180.8) scale(1.016,1)" font-size="21.6" text-anchor="start" >asymptotics</text>
<text transform="translate(310.0,202.6) scale(1.008,1)" font-size="21.6" text-anchor="start" >(weak coupling)</text>
<line x1="184.6" y1="136.8" x2="220.60" y2="150.67" stroke="#000" stroke-width="1.5"/><polygon points="229.00,153.90 217.23,153.87 220.24,146.03" fill="#000"/>
<line x1="368.5" y1="212.6" x2="322.96" y2="243.27" stroke="#000" stroke-width="1.5"/><polygon points="315.50,248.30 322.28,238.67 326.97,245.64" fill="#000"/>
<rect x="336.7" y="23.5" width="123.5" height="28.0" fill="#fff" stroke="#000" stroke-width="1"/>
<line x1="342.1" y1="37.5" x2="359.2" y2="37.5" stroke="#000" stroke-width="2.6"/>
<text x="368.6" y="40.6" font-size="19.5" text-anchor="start" class="i">σ</text>
<text x="377.9" y="47.300000000000004" font-size="12.3" text-anchor="start" class="i">d</text>
<text transform="translate(390.5,40.6) scale(0.953,1)" font-size="19.3" text-anchor="start" >(</text>
<text transform="translate(395.2,40.6) scale(0.953,1)" font-size="19.3" text-anchor="start" >0,</text>
<text transform="translate(414.7,40.6) scale(0.953,1)" font-size="19.3" text-anchor="start" >0,</text>
<text transform="translate(434.1,40.6) scale(0.953,1)" font-size="19.3" text-anchor="start" class="i">H</text>
<text transform="translate(450.4,40.6) scale(0.953,1)" font-size="19.3" text-anchor="start" >)</text>
<text x="231.2" y="351.2" font-size="18" text-anchor="start" class="i">g</text>
<text transform="translate(239.7,351.2) scale(1.15,1)" font-size="18" text-anchor="start" class="i">μ</text>
<text x="250.0" y="356.59999999999997" font-size="12" text-anchor="start" >B</text>
<text x="260.0" y="351.2" font-size="18" text-anchor="start" class="i">H</text>
<text transform="translate(277.6,351.2) scale(0.95,1)" font-size="18.5" text-anchor="start" class="i">/</text>
<text transform="translate(282.3,351.2) scale(1.1,1)" font-size="18.5" text-anchor="start" class="i">k</text>
<text transform="translate(291.2,351.2) scale(1.12,1)" font-size="18.5" text-anchor="start" class="i">T</text>
<text x="302.8" y="357.0" font-size="12.2" text-anchor="start" >K</text>
<path d="M294.4,336.6 q1.9,-2.9 4.0,-1.2 t4.0,-1.2" fill="none" stroke="#000" stroke-width="1.25"/>
<g transform="translate(21.2,245.3) rotate(-90)" font-size="18"><text x="0" y="0">linear conductance [</text><text x="146.7" y="0" class="i">e</text><text x="154.6" y="-12.0" font-size="12.5">2</text><text transform="translate(162.6,0) scale(0.8,1)" class="i">/</text><text x="167.1" y="0" class="i">h</text><text x="179.7" y="0">]</text></g>
</svg></body></html>
